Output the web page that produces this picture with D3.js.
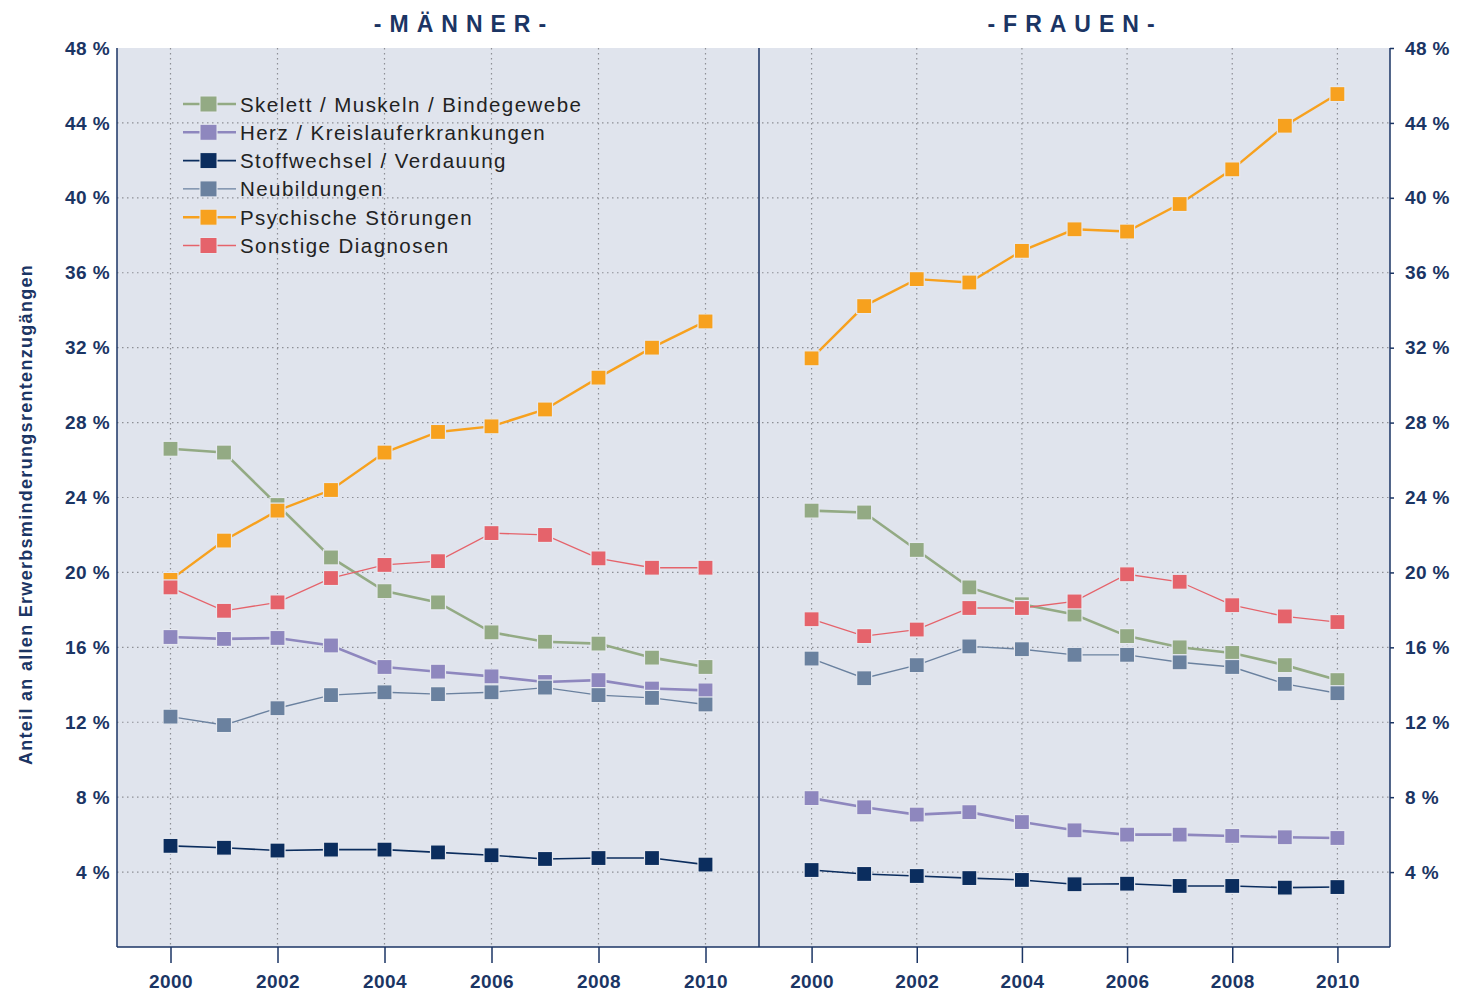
<!DOCTYPE html>
<html>
<head>
<meta charset="utf-8">
<script src="https://cdn.jsdelivr.net/npm/d3@7"></script>
<style>
  body { margin: 0; background: #fff; }
  svg { display: block; font-family: "Liberation Sans", Arial, sans-serif; }
</style>
</head>
<body>
<svg id="chart" width="1457" height="992"></svg>
<script>
// data (percent of all new disability pensions)
var years = [2000, 2001, 2002, 2003, 2004, 2005, 2006, 2007, 2008, 2009, 2010];
var yearTicks = [2000, 2002, 2004, 2006, 2008, 2010];
var pctTicks = [4, 8, 12, 16, 20, 24, 28, 32, 36, 40, 44, 48];
var categories = ["Skelett / Muskeln / Bindegewebe", "Herz / Kreislauferkrankungen", "Stoffwechsel / Verdauung",
                  "Neubildungen", "Psychische Störungen", "Sonstige Diagnosen"];
var panelTitles = ["-MÄNNER-", "-FRAUEN-"];

var skelettM = [26.6, 26.4, 23.6, 20.8, 19.0, 18.4, 16.8, 16.3, 16.2, 15.45, 14.95];
var herzM = [16.55, 16.45, 16.5, 16.1, 14.95, 14.7, 14.45, 14.15, 14.25, 13.8, 13.7];
var stoffM = [5.4, 5.3, 5.15, 5.2, 5.2, 5.05, 4.9, 4.7, 4.75, 4.75, 4.4];
var neuM = [12.3, 11.85, 12.75, 13.45, 13.6, 13.5, 13.6, 13.85, 13.45, 13.3, 12.95];
var psychM = [19.6, 21.7, 23.3, 24.4, 26.4, 27.5, 27.8, 28.7, 30.4, 32.0, 33.4];
var sonstM = [19.2, 17.95, 18.4, 19.7, 20.4, 20.6, 22.1, 22.0, 20.75, 20.25, 20.25];

var skelettF = [23.3, 23.2, 21.2, 19.2, 18.3, 17.75, 16.6, 16.0, 15.7, 15.05, 14.25];
var herzF = [7.95, 7.46, 7.07, 7.2, 6.67, 6.23, 6.0, 6.0, 5.93, 5.86, 5.82];
var stoffF = [4.11, 3.9, 3.79, 3.68, 3.58, 3.35, 3.38, 3.26, 3.26, 3.17, 3.2];
var neuF = [15.4, 14.35, 15.05, 16.05, 15.9, 15.6, 15.6, 15.2, 14.95, 14.05, 13.55];
var psychF = [31.43, 34.22, 35.66, 35.48, 37.17, 38.32, 38.2, 39.67, 41.52, 43.85, 45.54];
var sonstF = [17.5, 16.6, 16.95, 18.1, 18.1, 18.45, 19.9, 19.5, 18.25, 17.65, 17.35];

var colors = ["#93aa84", "#8e87be", "#0b2d5e", "#6a819f", "#f7a11e", "#e5636b"];
var widths = [2.6, 2.6, 1.6, 1.4, 2.4, 1.3];
var navy = "#1b3564";

var panels = [
    [skelettM, herzM, stoffM, neuM, psychM, sonstM],
    [skelettF, herzF, stoffF, neuF, psychF, sonstF]
];

var svg = d3.select("#chart");
var plotTop = 48, plotBottom = 947, plotLeft = 117, plotMid = 759, plotRight = 1390;
var titleX = [464, 1075];

var y = d3.scaleLinear().domain([0, 48]).range([plotBottom, plotTop]);
var xs = [
    d3.scaleLinear().domain([1999, 2011]).range([plotLeft, plotMid]),
    d3.scaleLinear().domain([1999, 2011]).range([plotMid, plotRight])
];

// plot background
svg.append("rect")
    .attr("x", plotLeft).attr("y", plotTop)
    .attr("width", plotRight - plotLeft).attr("height", plotBottom - plotTop)
    .attr("fill", "#e0e4ed");

var grid = svg.append("g");
grid.selectAll(".hg")
    .data(pctTicks.filter(function(d){ return d < 48; }))
    .enter().append("line")
    .attr("x1", plotLeft).attr("x2", plotRight)
    .attr("y1", function(d){ return y(d); }).attr("y2", function(d){ return y(d); })
    .attr("stroke", "#8d8f96").attr("stroke-width", 1.2)
    .attr("stroke-dasharray", "1.5,3.5");

xs.forEach(function(x){
    grid.selectAll(null)
        .data(yearTicks)
        .enter().append("line")
        .attr("x1", function(d){ return x(d); }).attr("x2", function(d){ return x(d); })
        .attr("y1", plotTop).attr("y2", plotBottom)
        .attr("stroke", "#8d8f96").attr("stroke-width", 1.2)
        .attr("stroke-dasharray", "1.5,3.5");
});

// frame
var frame = svg.append("g").attr("stroke", navy).attr("stroke-width", 1.5);
frame.append("line").attr("x1", plotLeft).attr("x2", plotLeft).attr("y1", plotTop).attr("y2", plotBottom);
frame.append("line").attr("x1", plotMid).attr("x2", plotMid).attr("y1", plotTop).attr("y2", plotBottom);
frame.append("line").attr("x1", plotRight).attr("x2", plotRight).attr("y1", plotTop).attr("y2", plotBottom);
frame.append("line").attr("x1", plotLeft).attr("x2", plotRight).attr("y1", plotBottom).attr("y2", plotBottom);

var styleTicks = function(ax){
    ax.select(".domain").remove();
    ax.selectAll(".tick line").attr("stroke", navy).attr("stroke-width", 1.5);
    ax.selectAll("text").attr("fill", navy)
        .style("font-size", "19px").style("font-weight", "bold").style("letter-spacing", "0.4px")
        .style("font-family", "'Liberation Sans', Arial, sans-serif");
};

// x axes
xs.forEach(function(x){
    var ax = svg.append("g")
        .attr("transform", "translate(0," + plotBottom + ")")
        .call(d3.axisBottom(x).tickValues(yearTicks).tickFormat(d3.format("d")).tickSize(16).tickPadding(12));
    styleTicks(ax);
});

// y axes
var yl = svg.append("g")
    .attr("transform", "translate(" + plotLeft + ",0)")
    .call(d3.axisLeft(y).tickValues(pctTicks).tickFormat(function(d){ return d + " %"; }).tickSize(0).tickPadding(7));
var yr = svg.append("g")
    .attr("transform", "translate(" + plotRight + ",0)")
    .call(d3.axisRight(y).tickValues(pctTicks).tickFormat(function(d){ return d + " %"; }).tickSize(4).tickPadding(11));
styleTicks(yl);
styleTicks(yr);

// y axis title
svg.append("text")
    .attr("transform", "translate(32," + ((plotTop + plotBottom) / 2 + 17) + ") rotate(-90)")
    .attr("text-anchor", "middle")
    .attr("fill", navy)
    .style("font-size", "18px").style("font-weight", "bold").style("letter-spacing", "1.3px")
    .text("Anteil an allen Erwerbsminderungsrentenzugängen");

// panel titles
panelTitles.forEach(function(t, i){
    svg.append("text")
        .attr("x", titleX[i])
        .attr("y", 32)
        .attr("text-anchor", "middle")
        .attr("fill", navy)
        .style("font-size", "23px").style("font-weight", "bold").style("letter-spacing", "8px")
        .text(t);
});

// series
var line = d3.line();
panels.forEach(function(series, p){
    var x = xs[p];
    series.forEach(function(vals, i){
        var g = svg.append("g");
        var pts = vals.map(function(v, k){ return [x(years[k]), y(v)]; });
        g.append("path")
            .attr("d", line(pts))
            .attr("fill", "none")
            .attr("stroke", colors[i])
            .attr("stroke-width", widths[i]);
        g.selectAll("rect")
            .data(pts)
            .enter().append("rect")
            .attr("x", function(d){ return d[0] - 7.5; })
            .attr("y", function(d){ return d[1] - 7.5; })
            .attr("width", 15).attr("height", 15)
            .attr("fill", colors[i])
            .attr("stroke", "#e6e9f0").attr("stroke-width", 1.2);
    });
});

// legend
var legend = svg.append("g").attr("transform", "translate(183,104)");
categories.forEach(function(c, i){
    var row = legend.append("g").attr("transform", "translate(0," + (i * 28.3) + ")");
    row.append("line").attr("x1", 0).attr("x2", 53).attr("y1", 0).attr("y2", 0)
        .attr("stroke", colors[i]).attr("stroke-width", widths[i]);
    row.append("rect").attr("x", 17).attr("y", -8).attr("width", 17).attr("height", 16)
        .attr("fill", colors[i]).attr("stroke", "#e6e9f0").attr("stroke-width", 1);
    row.append("text").attr("x", 57).attr("y", 7.5)
        .attr("fill", "#222")
        .style("font-size", "20.5px").style("letter-spacing", "1.45px")
        .text(c);
});
</script>
</body>
</html>
